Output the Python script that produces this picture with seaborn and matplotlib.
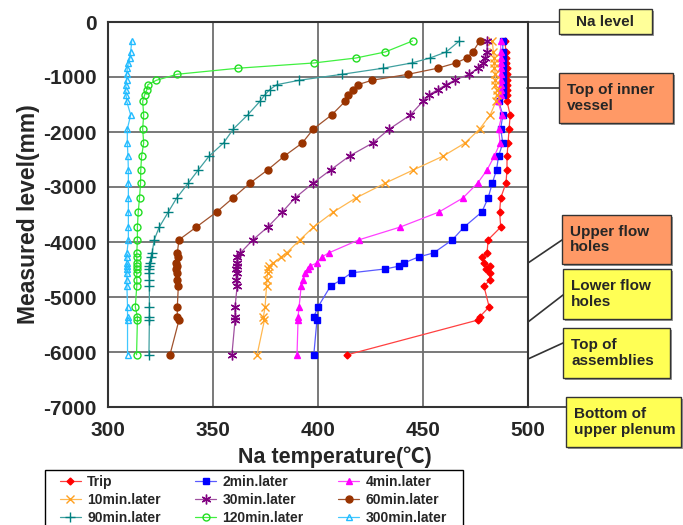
import numpy as np
import pandas as pd
import seaborn as sns
import matplotlib.pyplot as plt
from matplotlib.lines import Line2D
from matplotlib.patches import Rectangle

# Measurement levels (mm) shared by all thermocouple traces
levels = [-345, -545, -655, -745, -840, -950, -1060, -1140, -1230, -1320, -1440,
          -1690, -1945, -2200, -2436, -2690, -2930, -3200, -3455, -3730, -3960,
          -4200, -4270, -4380, -4440, -4490, -4560, -4690, -4800,
          -5180, -5360, -5420, -6050]

# Na temperature (deg C) per level for each time after trip
trip = [489, 489.5, 489.5, 489.5, 490, 490, 490, 490, 490, 490, 490,
        491.5, 491, 490.5, 490, 490, 489.5, 487, 486.5, 487, 481,
        480.5, 478, 479, 482, 480, 482, 482, 479,
        481.5, 477, 476, 414]
min2 = [488, 488, 488, 488, 488, 488, 488, 488, 488, 488, 486,
        488, 487, 488, 486, 485, 483, 481, 478, 469.5, 464,
        455, 448, 441, 438.5, 432, 416, 411, 406,
        400, 398, 399.5, 398]
min4 = [487, 487, 487, 487, 487, 487, 487, 487, 487, 487, 485.7,
        487.6, 486, 486.7, 484, 480.5, 476, 469, 457.6, 439, 419.5,
        405, 402, 399.5, 396, 395, 394, 393, 392,
        391, 390.5, 390.5, 390]
min10 = [483, 483.5, 484, 484, 484, 484.5, 484.5, 484.5, 485, 485, 484.8,
         482, 477, 470, 459.7, 445.4, 432, 418, 407.3, 397.8, 391.4,
         385, 382.5, 378.7, 376.5, 376, 376, 375.7, 375.5,
         374.8, 374, 374.5, 371]
min30 = [480.5, 480.5, 479.5, 478.6, 476, 472, 465, 461, 457, 453, 450,
         444, 434, 426, 415, 406, 397.6, 389, 383, 376, 369,
         363, 361.5, 361.4, 361.5, 361, 361.5, 361, 361.5,
         360.5, 360.5, 360.5, 359]
min60 = [477, 473.7, 470.8, 465.7, 457, 443, 425.6, 419, 416.5, 414.4, 413,
         406.5, 397.8, 392.5, 384, 376, 367.6, 359.5, 351.7, 342, 333.8,
         333, 333.5, 332.4, 333, 332.5, 332.8, 333, 333.5,
         333, 333, 333.8, 329.5]
min90 = [467.3, 461, 453.3, 444.6, 431, 411.6, 391, 380.3, 377, 374.8, 372.4,
         366.5, 359.7, 355, 348.2, 343, 338.2, 332.7, 328.7, 324.4, 322,
         321, 320.5, 320, 319.7, 319.5, 319.5, 319.7, 319.7,
         319.7, 319.7, 319.7, 319.5]
min120 = [445, 432, 418, 398, 362, 333, 323, 319, 318.5, 317.5, 316.5,
          317, 316.5, 317, 316, 315.6, 315.5, 315, 314.4, 314, 314,
          313.7, 313.7, 313.7, 313.7, 313.7, 313.7, 313.7, 313.7,
          313, 314, 314, 313.6]
min300 = [311.3, 310.8, 310.5, 309.7, 309.2, 308.9, 308.9, 308.6, 308.4, 308.6, 308.9,
          310.8, 309.2, 309.2, 309.5, 309.7, 309.7, 309.7, 309.7, 309.7, 309.7,
          309, 309, 309, 309, 309, 309, 309, 309,
          309.3, 309.3, 309.3, 309.3]

series_names = ['Trip', '2min.later', '4min.later', '10min.later', '30min.later',
                '60min.later', '90min.later', '120min.later', '300min.later']
series_values = [trip, min2, min4, min10, min30, min60, min90, min120, min300]

# (line colour, marker colour, marker, size, filled)
styles = {
    'Trip':         ('#FF4040', '#FF0000', 'D', 3.5, True),
    '2min.later':   ('#5A5AFF', '#0000FF', 's', 5, True),
    '4min.later':   ('#FF40FF', '#FF00FF', '^', 5, True),
    '10min.later':  ('#FFB850', '#FFA020', 'x', 6, True),
    '30min.later':  ('#A050A0', '#800080', (6, 2, 0), 7, True),
    '60min.later':  ('#A0522D', '#993300', 'o', 5, True),
    '90min.later':  ('#40A0A0', '#008080', '+', 7, True),
    '120min.later': ('#40F040', '#22DD22', 'o', 5, False),
    '300min.later': ('#40C8FF', '#22BBFF', '^', 5, False),
}

W, H = 683, 525


def fx(px):
    return px / W


def fy(py):
    return 1 - py / H


sns.set_style('white')
plt.rcParams['font.family'] = ['Liberation Sans', 'DejaVu Sans']
plt.rcParams['axes.unicode_minus'] = False

fig = plt.figure(figsize=(W / 100, H / 100), dpi=100)
ax = fig.add_axes([fx(108), fy(407), fx(528) - fx(108), fy(22) - fy(407)])

for name, vals in zip(series_names, series_values):
    lc, mc, mk, ms, filled = styles[name]
    sns.lineplot(x=vals, y=levels, sort=False, estimator=None, ax=ax,
                 color=lc, lw=0.9, marker=mk, ms=ms,
                 markerfacecolor=mc if filled else 'none',
                 markeredgecolor=mc, markeredgewidth=1.0,
                 label=name)

ax.set_xlim(300, 500)
ax.set_ylim(-7000, 0)
ax.set_xticks(np.arange(300, 501, 50))
ax.set_yticks(np.arange(-7000, 1, 1000))
ax.grid(True, color='#6e6e6e', lw=1.3)
for sp in ax.spines.values():
    sp.set_color('#333333')
    sp.set_linewidth(1.5)
ax.tick_params(axis='x', length=0, pad=10, labelsize=15)
ax.tick_params(axis='y', length=5, width=1, direction='out', pad=3, labelsize=15)
for lab in ax.get_xticklabels() + ax.get_yticklabels():
    lab.set_fontweight('bold')
ax.set_xlabel('Na temperature(℃)', fontsize=15.5, fontweight='bold',
              family=['Liberation Sans', 'Noto Sans CJK JP'])
ax.xaxis.set_label_coords(0.54, -0.102)
ax.set_ylabel('Measured level(mm)', fontsize=16.5, fontweight='bold', labelpad=2)

# legend laid out row by row like the original, frame drawn separately
handles, labels = ax.get_legend_handles_labels()
order = [0, 3, 6, 1, 4, 7, 2, 5, 8]
leg = fig.legend([handles[i] for i in order], [labels[i] for i in order],
                 loc='upper left', bbox_to_anchor=(fx(60), fy(475)),
                 ncol=3, prop={'weight': 'bold', 'size': 10},
                 frameon=False, borderaxespad=0, borderpad=0, labelspacing=0.3,
                 handlelength=1.5, handletextpad=0.45, columnspacing=2.5)
ax.get_legend().remove()
fig.add_artist(Rectangle((fx(45), fy(545)), fx(463 - 45), fy(470) - fy(545),
                         transform=fig.transFigure, facecolor='none',
                         edgecolor='black', lw=1.0))

# leader lines to the structure labels
leaders = [((527, 22), (559, 22)),
           ((527, 88), (559, 88)),
           ((528, 263), (562, 240)),
           ((528, 322), (563, 295)),
           ((528, 359), (563, 343)),
           ((527, 407), (566, 407))]
for (x0, y0), (x1, y1) in leaders:
    fig.add_artist(Line2D([fx(x0), fx(x1)], [fy(y0), fy(y1)],
                          transform=fig.transFigure, color='#333333', lw=1.2))

boxes = [('Na level', (559, 9, 652, 34), '#FFFF99', 'center'),
         ('Top of inner\nvessel', (559, 73, 673, 123), '#FF9966', 'left'),
         ('Upper flow\nholes', (562, 215, 671, 264), '#FF9966', 'left'),
         ('Lower flow\nholes', (563, 269, 671, 319), '#FFFF55', 'left'),
         ('Top of\nassemblies', (563, 328, 670, 378), '#FFFF55', 'left'),
         ('Bottom of\nupper plenum', (566, 397, 681, 447), '#FFFF55', 'left')]
for text, (x0, y0, x1, y1), col, ha in boxes:
    fig.add_artist(Rectangle((fx(x0 + 2), fy(y1 + 2)), fx(x1 - x0), fy(y0) - fy(y1),
                             transform=fig.transFigure, facecolor='#9a9a9a',
                             edgecolor='none', zorder=3))
    fig.add_artist(Rectangle((fx(x0), fy(y1)), fx(x1 - x0), fy(y0) - fy(y1),
                             transform=fig.transFigure, facecolor=col,
                             edgecolor='#333333', lw=1.0, zorder=4))
    tx = fx((x0 + x1) / 2) if ha == 'center' else fx(x0 + 8)
    fig.text(tx, fy((y0 + y1) / 2), text, ha=ha, va='center',
             fontsize=11, fontweight='bold', linespacing=1.15, zorder=5)

fig.savefig('out.png', dpi=100)
plt.close(fig)
